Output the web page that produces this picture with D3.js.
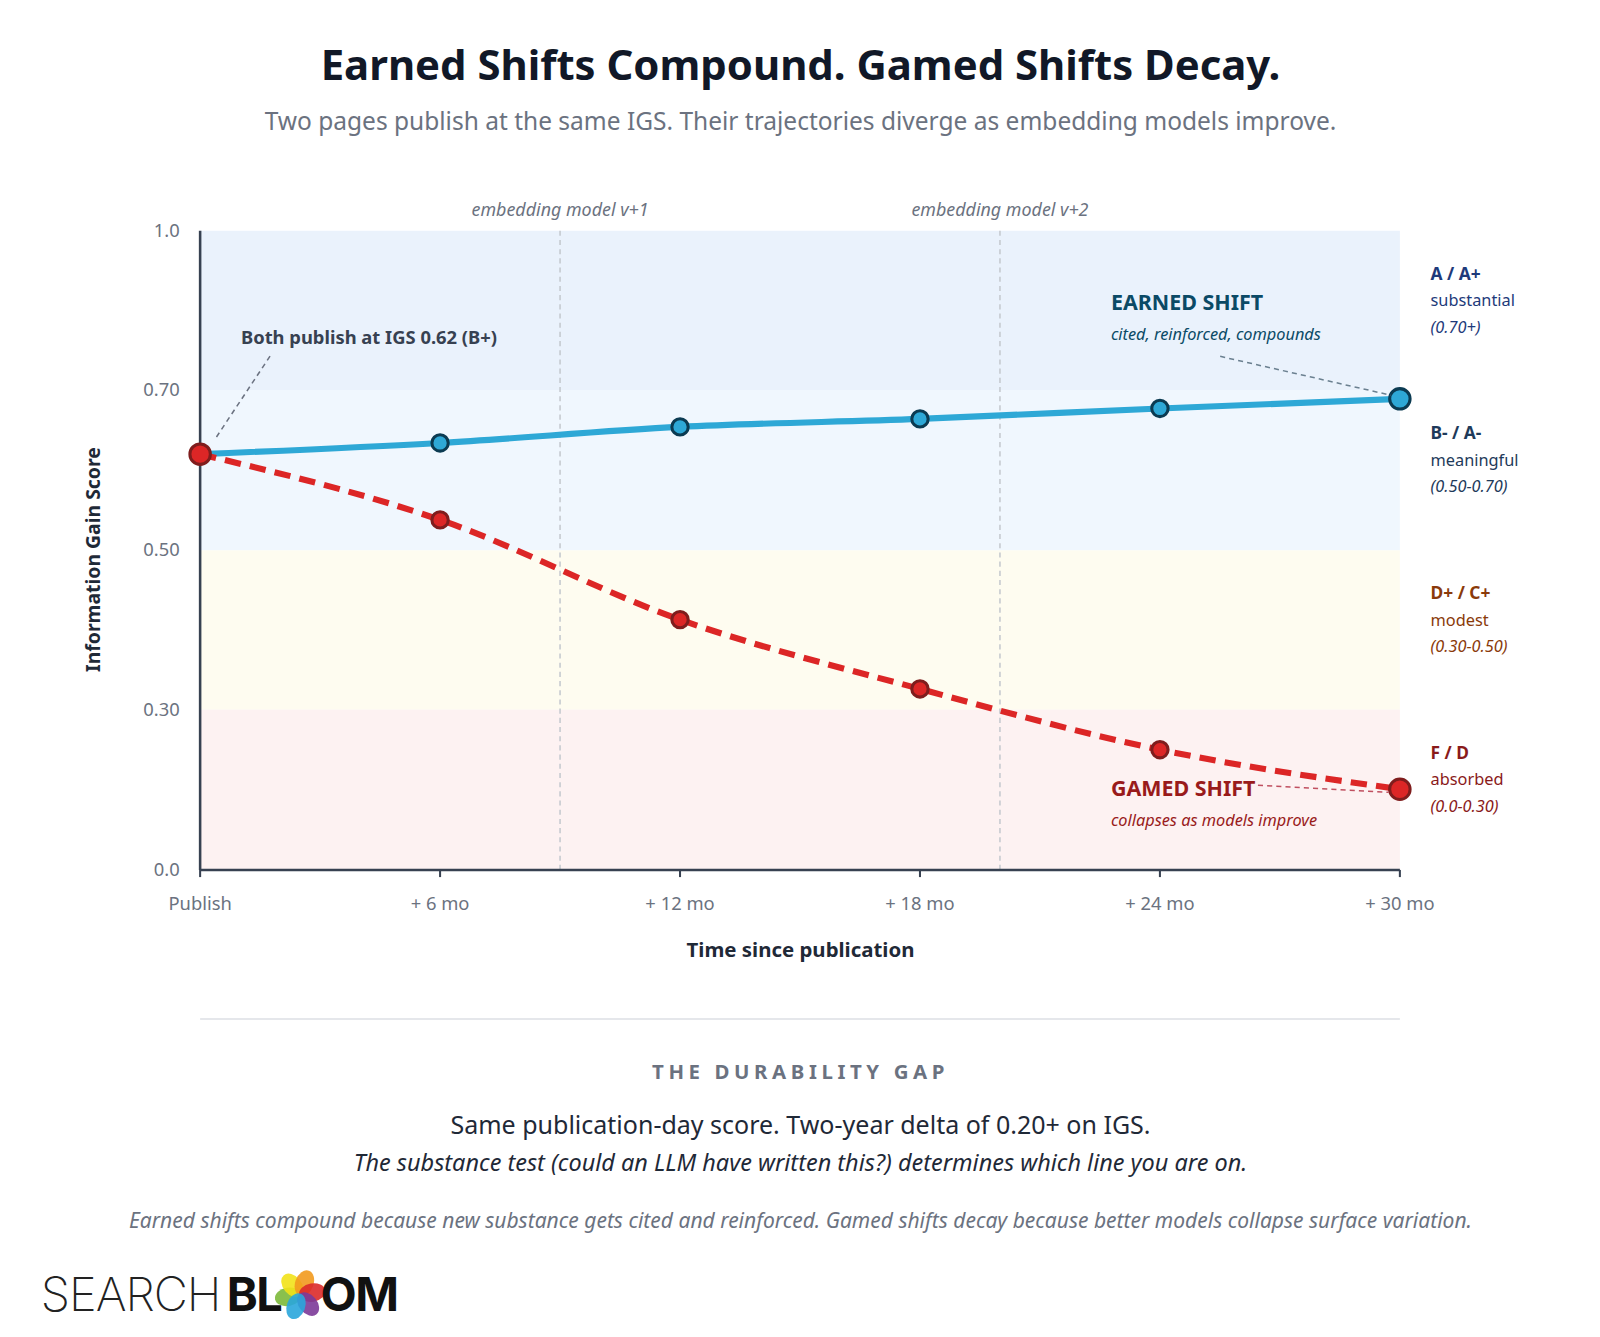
<!DOCTYPE html>
<html><head><meta charset="utf-8">
<script src="https://cdn.jsdelivr.net/npm/d3@7"></script>
<style>body{margin:0;background:#fff;font-family:"Noto Sans",sans-serif}</style>
</head><body>
<svg id="chart"></svg>
<script>
var months = [0, 6, 12, 18, 24, 30]
var tickLabels = ["Publish", "+ 6 mo", "+ 12 mo", "+ 18 mo", "+ 24 mo", "+ 30 mo"]
var earned = [0.62, 0.634, 0.654, 0.664, 0.677, 0.689]
var gamed = [0.62, 0.538, 0.413, 0.326, 0.225, 0.151]
var yTicks = [0, 0.3, 0.5, 0.7, 1.0]
var yTickLabels = ["0.0", "0.30", "0.50", "0.70", "1.0"]
var modelEvents = [{ m: 9, label: "embedding model v+1" }, { m: 20, label: "embedding model v+2" }]
var bands = [
	{ lo: 0.7, hi: 1.0, fill: "#eaf2fc", grade: "A / A+", name: "substantial", range: "(0.70+)", color: "#1e3a7a" },
	{ lo: 0.5, hi: 0.7, fill: "#f0f7fe", grade: "B- / A-", name: "meaningful", range: "(0.50-0.70)", color: "#1e3a5a" },
	{ lo: 0.3, hi: 0.5, fill: "#fefcf0", grade: "D+ / C+", name: "modest", range: "(0.30-0.50)", color: "#8a3a0a" },
	{ lo: 0.0, hi: 0.3, fill: "#fdf2f2", grade: "F / D", name: "absorbed", range: "(0.0-0.30)", color: "#8a1a1a" }
]

var W = 1600, H = 1337
var root = d3.select("#chart").attr("width", W).attr("height", H)
var svg = root.append("g").attr("transform", "scale(" + (1600 / 1567) + ")")

var x = d3.scaleLinear().domain([0, 30]).range([196, 1371])
var y = d3.scaleLinear().domain(yTicks).range([852, 695, 539, 382, 226])

svg.append("text").attr("x", 784).attr("y", 78).attr("text-anchor", "middle")
	.attr("font-size", 41).attr("font-weight", 700).attr("fill", "#111827")
	.text("Earned Shifts Compound. Gamed Shifts Decay.")
svg.append("text").attr("x", 784).attr("y", 127).attr("text-anchor", "middle")
	.attr("font-size", 24).attr("fill", "#6b7280")
	.text("Two pages publish at the same IGS. Their trajectories diverge as embedding models improve.")

svg.selectAll(".band").data(bands).enter().append("rect")
	.attr("x", x(0)).attr("width", x(30) - x(0))
	.attr("y", d => y(d.hi)).attr("height", d => y(d.lo) - y(d.hi))
	.attr("fill", d => d.fill)

bands.forEach(function (b) {
	var top = y(b.hi) + 48
	svg.append("text").attr("x", 1401).attr("y", top).attr("font-size", 17).attr("font-weight", 700).attr("fill", b.color).text(b.grade)
	svg.append("text").attr("x", 1401).attr("y", top + 26).attr("font-size", 16).attr("fill", b.color).text(b.name)
	svg.append("text").attr("x", 1401).attr("y", top + 52).attr("font-size", 16).attr("font-style", "italic").attr("fill", b.color).text(b.range)
})

modelEvents.forEach(function (e) {
	svg.append("line").attr("x1", x(e.m)).attr("x2", x(e.m)).attr("y1", y(1)).attr("y2", y(0))
		.attr("stroke", "#c4c8ce").attr("stroke-width", 1.5).attr("stroke-dasharray", "5,4")
	svg.append("text").attr("x", x(e.m)).attr("y", 212).attr("text-anchor", "middle")
		.attr("font-size", 17.5).attr("font-style", "italic").attr("fill", "#6b7280").text(e.label)
})

// axes
svg.append("line").attr("x1", x(0)).attr("x2", x(0)).attr("y1", y(1)).attr("y2", y(0)).attr("stroke", "#374151").attr("stroke-width", 2.5)
svg.append("line").attr("x1", x(0)).attr("x2", x(30)).attr("y1", y(0)).attr("y2", y(0)).attr("stroke", "#374151").attr("stroke-width", 2.5)
months.forEach(function (m, i) {
	svg.append("line").attr("x1", x(m)).attr("x2", x(m)).attr("y1", y(0)).attr("y2", y(0) + 7).attr("stroke", "#374151").attr("stroke-width", 2)
	svg.append("text").attr("x", x(m)).attr("y", 891).attr("text-anchor", "middle").attr("font-size", 18).attr("fill", "#6b7280").text(tickLabels[i])
})
yTicks.forEach(function (t, i) {
	svg.append("text").attr("x", 176).attr("y", y(t) + 6).attr("text-anchor", "end").attr("font-size", 18).attr("fill", "#6b7280").text(yTickLabels[i])
})
svg.append("text").attr("x", 784).attr("y", 937).attr("text-anchor", "middle").attr("font-size", 20).attr("font-weight", 700).attr("fill", "#1f2937").text("Time since publication")
svg.append("text").attr("transform", "translate(98,548) rotate(-90)").attr("text-anchor", "middle").attr("font-size", 19).attr("font-weight", 700).attr("fill", "#1f2937").text("Information Gain Score")

var line = d3.line().x((d, i) => x(months[i])).y(d => y(d)).curve(d3.curveMonotoneX)

svg.append("path").attr("d", line(earned)).attr("fill", "none").attr("stroke", "#2ea8d6").attr("stroke-width", 6)
svg.append("path").attr("d", line(gamed)).attr("fill", "none").attr("stroke", "#dc2626").attr("stroke-width", 6).attr("stroke-dasharray", "16,9")

svg.selectAll(".ep").data(earned).enter().append("circle")
	.attr("cx", (d, i) => x(months[i])).attr("cy", d => y(d))
	.attr("r", (d, i) => i == 5 ? 10 : 8).attr("fill", "#2ea8d6").attr("stroke", "#0b3b52").attr("stroke-width", 3)
	.filter((d, i) => i == 0).remove()
svg.selectAll(".gp").data(gamed).enter().append("circle")
	.attr("cx", (d, i) => x(months[i])).attr("cy", d => y(d))
	.attr("r", (d, i) => (i == 0 || i == 5) ? 10 : 8).attr("fill", "#dc2626").attr("stroke", "#7f1d1d").attr("stroke-width", 3)

// annotations
svg.append("line").attr("x1", 212).attr("y1", 428).attr("x2", 265).attr("y2", 348).attr("stroke", "#6b7280").attr("stroke-width", 1.5).attr("stroke-dasharray", "5,4")
svg.append("text").attr("x", 236).attr("y", 337).attr("font-size", 18).attr("font-weight", 700).attr("fill", "#374151").text("Both publish at IGS 0.62 (B+)")

svg.append("text").attr("x", 1088).attr("y", 304).attr("font-size", 21).attr("font-weight", 700).attr("fill", "#0b4a66").text("EARNED SHIFT")
svg.append("text").attr("x", 1088).attr("y", 333).attr("font-size", 16).attr("font-style", "italic").attr("fill", "#0b4a66").text("cited, reinforced, compounds")
svg.append("line").attr("x1", 1195).attr("y1", 349).attr("x2", 1362).attr("y2", 387).attr("stroke", "#6b8090").attr("stroke-width", 1.5).attr("stroke-dasharray", "5,4")

svg.append("text").attr("x", 1088).attr("y", 780).attr("font-size", 21).attr("font-weight", 700).attr("fill", "#991b1b").text("GAMED SHIFT")
svg.append("text").attr("x", 1088).attr("y", 809).attr("font-size", 16).attr("font-style", "italic").attr("fill", "#991b1b").text("collapses as models improve")
svg.append("line").attr("x1", 1232).attr("y1", 769).attr("x2", 1360).attr("y2", 776).attr("stroke", "#c05060").attr("stroke-width", 1.5).attr("stroke-dasharray", "5,4")

// footer
svg.append("line").attr("x1", 196).attr("x2", 1371).attr("y1", 998).attr("y2", 998).attr("stroke", "#e5e7eb").attr("stroke-width", 2)
svg.append("text").attr("x", 784).attr("y", 1057).attr("text-anchor", "middle").attr("font-size", 20).attr("font-weight", 700).attr("letter-spacing", 4.5).attr("fill", "#6b7280").text("THE DURABILITY GAP")
svg.append("text").attr("x", 784).attr("y", 1111).attr("text-anchor", "middle").attr("font-size", 24.5).attr("fill", "#1f2937").text("Same publication-day score. Two-year delta of 0.20+ on IGS.")
svg.append("text").attr("x", 784).attr("y", 1147).attr("text-anchor", "middle").attr("font-size", 23).attr("font-style", "italic").attr("fill", "#1f2937").text("The substance test (could an LLM have written this?) determines which line you are on.")
svg.append("text").attr("x", 784).attr("y", 1203).attr("text-anchor", "middle").attr("font-size", 20.6).attr("font-style", "italic").attr("fill", "#6b7280").text("Earned shifts compound because new substance gets cited and reinforced. Gamed shifts decay because better models collapse surface variation.")

// logo
var logo = svg.append("g")
logo.append("text").attr("x", 40).attr("y", 1284).attr("font-size", 46).attr("font-weight", 200).attr("fill", "#222").attr("font-family", "Inter, sans-serif").attr("letter-spacing", -1).text("SEARCH")
logo.append("text").attr("x", 222).attr("y", 1284).attr("font-size", 46).attr("font-weight", 700).attr("fill", "#111").attr("font-family", "Inter, sans-serif").attr("letter-spacing", -1.5).text("BL")
var petals = ["#7cb93a", "#f2e21a", "#f29a1e", "#dc2a2a", "#7c3a98", "#2aa6dc"]
petals.forEach(function (c, i) {
	var a = i * 60 - 100
	logo.append("ellipse").attr("cx", 0).attr("cy", -12).attr("rx", 9).attr("ry", 13).attr("fill", c).attr("opacity", 0.9)
		.attr("transform", "translate(294,1268) rotate(" + a + ")")
})
logo.append("text").attr("x", 314).attr("y", 1284).attr("font-size", 46).attr("font-weight", 700).attr("fill", "#111").attr("font-family", "Inter, sans-serif").attr("letter-spacing", -1.5).text("OM")
</script>
</body></html>
